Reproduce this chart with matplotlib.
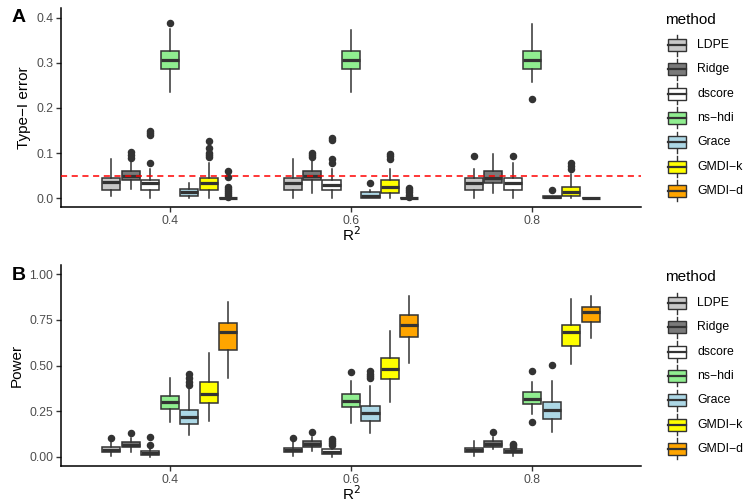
from matplotlib import pyplot as plt
from matplotlib.patches import Rectangle
import numpy as np

plt.rcParams.update({"font.family": ["Liberation Sans", "DejaVu Sans"], "font.size": 11})

methods = ["LDPE", "Ridge", "dscore", "ns\u2212hdi", "Grace", "GMDI\u2212k", "GMDI\u2212d"]
method_colors = ["#C8C8C8", "#7A7A7A", "#FFFFFF", "#90EE90", "#ADD8E6", "#FFFF00", "#FFA500"]
r2_labels = ["0.4", "0.6", "0.8"]

# Panel A: Type-I error (rows = methods, columns = R^2)
typeI_lo = [
    [0.006, 0.0, 0.0],
    [0.020, 0.012, 0.012],
    [0.0, 0.0, 0.0],
    [0.235, 0.235, 0.257],
    [0.0, 0.0, 0.0],
    [0.0, 0.0, 0.0],
    [0.0, 0.0, 0.0],
]
typeI_q1 = [
    [0.018, 0.018, 0.018],
    [0.040, 0.040, 0.033],
    [0.018, 0.018, 0.018],
    [0.287, 0.287, 0.286],
    [0.005, 0.0, 0.0],
    [0.018, 0.012, 0.006],
    [0.0, 0.0, 0.0],
]
typeI_med = [
    [0.036, 0.033, 0.033],
    [0.049, 0.049, 0.046],
    [0.033, 0.030, 0.033],
    [0.307, 0.307, 0.306],
    [0.013, 0.006, 0.003],
    [0.033, 0.026, 0.013],
    [0.0, 0.0, 0.0],
]
typeI_q3 = [
    [0.046, 0.046, 0.046],
    [0.060, 0.060, 0.060],
    [0.040, 0.040, 0.046],
    [0.327, 0.327, 0.327],
    [0.020, 0.013, 0.006],
    [0.046, 0.040, 0.026],
    [0.0, 0.0, 0.0],
]
typeI_hi = [
    [0.086, 0.086, 0.066],
    [0.086, 0.086, 0.099],
    [0.066, 0.066, 0.079],
    [0.375, 0.373, 0.387],
    [0.033, 0.018, 0.006],
    [0.079, 0.066, 0.053],
    [0.0, 0.0, 0.0],
]
typeI_fliers = [
    [[], [], [0.093]],
    [[0.090, 0.096, 0.103], [0.092, 0.097, 0.101], []],
    [[0.079, 0.141, 0.145, 0.148], [0.079, 0.086, 0.129, 0.133], [0.093]],
    [[0.388], [], [0.220]],
    [[], [0.033], [0.018]],
    [[0.092, 0.097, 0.100, 0.112, 0.127], [0.086, 0.093, 0.099], [0.066, 0.072, 0.079]],
    [[0.004, 0.008, 0.012, 0.016, 0.020, 0.026, 0.048, 0.061],
     [0.004, 0.008, 0.013, 0.018, 0.022], []],
]

# Panel B: Power
power_lo = [
    [0.005, 0.005, 0.005],
    [0.027, 0.033, 0.040],
    [0.0, 0.0, 0.005],
    [0.192, 0.186, 0.232],
    [0.119, 0.132, 0.137],
    [0.197, 0.298, 0.507],
    [0.433, 0.512, 0.652],
]
power_q1 = [
    [0.024, 0.024, 0.024],
    [0.051, 0.051, 0.055],
    [0.009, 0.015, 0.022],
    [0.263, 0.274, 0.289],
    [0.178, 0.196, 0.208],
    [0.296, 0.424, 0.609],
    [0.585, 0.655, 0.737],
]
power_med = [
    [0.037, 0.037, 0.037],
    [0.066, 0.068, 0.070],
    [0.020, 0.026, 0.031],
    [0.298, 0.305, 0.316],
    [0.216, 0.238, 0.256],
    [0.345, 0.479, 0.684],
    [0.684, 0.722, 0.795],
]
power_q3 = [
    [0.051, 0.049, 0.049],
    [0.079, 0.084, 0.084],
    [0.031, 0.040, 0.040],
    [0.334, 0.344, 0.356],
    [0.256, 0.278, 0.298],
    [0.410, 0.543, 0.722],
    [0.733, 0.777, 0.819],
]
power_hi = [
    [0.079, 0.079, 0.088],
    [0.104, 0.110, 0.110],
    [0.042, 0.055, 0.048],
    [0.430, 0.415, 0.408],
    [0.370, 0.388, 0.415],
    [0.567, 0.689, 0.863],
    [0.846, 0.881, 0.881],
]
power_fliers = [
    [[0.104], [0.104], []],
    [[0.128], [0.137], [0.134]],
    [[0.064, 0.110], [0.066, 0.075, 0.085, 0.095], [0.055, 0.062, 0.068]],
    [[], [0.463], [0.190, 0.470]],
    [[0.392, 0.411, 0.430, 0.453], [0.430, 0.440, 0.455, 0.470], [0.503]],
    [[], [], []],
    [[], [], []],
]

EDGE = "#333333"
TICK_TXT = "#4D4D4D"
DODGE = 0.1074
BOX_W = 0.100


def draw_panel(ax, lo, q1, med, q3, hi, fliers):
    for i in range(len(methods)):
        stats = []
        for j in range(len(r2_labels)):
            stats.append(dict(whislo=lo[i][j], q1=q1[i][j], med=med[i][j],
                              q3=q3[i][j], whishi=hi[i][j], fliers=fliers[i][j]))
        pos = np.arange(1, len(r2_labels) + 1) + (i - 3) * DODGE
        bp = ax.bxp(stats, positions=pos, widths=BOX_W, patch_artist=True,
                    showcaps=False, manage_ticks=False,
                    boxprops=dict(edgecolor=EDGE, linewidth=1.1),
                    whiskerprops=dict(color=EDGE, linewidth=1.1),
                    medianprops=dict(color=EDGE, linewidth=2.3, solid_capstyle="butt"),
                    flierprops=dict(marker="o", markerfacecolor=EDGE,
                                    markeredgecolor=EDGE, markersize=4.4))
        for b in bp["boxes"]:
            b.set_facecolor(method_colors[i])
    for s in ["top", "right"]:
        ax.spines[s].set_visible(False)
    for s in ["left", "bottom"]:
        ax.spines[s].set_linewidth(1.1)
        ax.spines[s].set_color("black")
    ax.set_xlim(0.4, 3.6)
    ax.set_xticks([1, 2, 3])
    ax.set_xticklabels(r2_labels)
    ax.tick_params(colors="#333333", labelcolor=TICK_TXT, labelsize=8.8,
                   length=3.5, width=1.0, pad=2)
    ax.set_xlabel("R$^2$", fontsize=11, labelpad=-1)


fig = plt.figure(figsize=(7.43, 5.03), dpi=100)
W, H = 743, 503
axA = fig.add_axes([61 / W, 1 - 207 / H, 580 / W, 199 / H])
axB = fig.add_axes([61 / W, 1 - 466 / H, 580 / W, 201 / H])

draw_panel(axA, typeI_lo, typeI_q1, typeI_med, typeI_q3, typeI_hi, typeI_fliers)
axA.axhline(0.05, color="red", linestyle=(0, (4, 3)), linewidth=1.1, zorder=5)
axA.set_ylim(-0.0192, 0.4214)
axA.set_yticks([0.0, 0.1, 0.2, 0.3, 0.4])
axA.set_yticklabels(["0.0", "0.1", "0.2", "0.3", "0.4"])
axA.set_ylabel("Type\u2212I error", fontsize=11)

draw_panel(axB, power_lo, power_q1, power_med, power_q3, power_hi, power_fliers)
axB.set_ylim(-0.051, 1.051)
axB.set_yticks([0.0, 0.25, 0.5, 0.75, 1.0])
axB.set_yticklabels(["0.00", "0.25", "0.50", "0.75", "1.00"])
axB.set_ylabel("Power", fontsize=11)

fig.text(12 / W, 1 - 17 / H, "A", fontsize=14, fontweight="bold", va="center", ha="left")
fig.text(12 / W, 1 - 275 / H, "B", fontsize=14, fontweight="bold", va="center", ha="left")

# legends drawn in pixel space
lg = fig.add_axes([0, 0, 1, 1])
lg.set_xlim(0, W)
lg.set_ylim(H, 0)
lg.axis("off")
for title_y, first_y in [(20, 45), (277, 303)]:
    lg.text(665, title_y, "method", fontsize=11, va="center", ha="left")
    for i, name in enumerate(methods):
        cy = first_y + i * 24.3
        cx = 677
        lg.plot([cx, cx], [cy - 10.5, cy + 10.5], color=EDGE, lw=1.0)
        lg.add_patch(Rectangle((cx - 9, cy - 6), 18, 12, facecolor=method_colors[i],
                               edgecolor=EDGE, linewidth=1.0, zorder=3))
        lg.plot([cx - 9, cx + 9], [cy, cy], color=EDGE, lw=1.6, zorder=4)
        lg.text(697, cy, name, fontsize=8.8, va="center", ha="left")

fig.savefig("out.png", dpi=100)
